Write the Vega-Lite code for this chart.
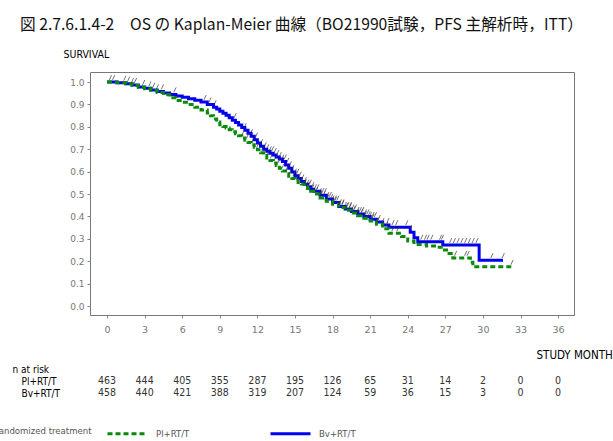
{
  "$schema": "https://vega.github.io/schema/vega-lite/v6.json",
  "autosize": "none",
  "width": 484,
  "height": 243,
  "padding": {"left": 90, "top": 72, "right": 39, "bottom": 126},
  "background": "white",
  "title": {
    "text": "図 2.7.6.1.4-2　OS の Kaplan-Meier 曲線（BO21990試験，PFS 主解析時，ITT）",
    "anchor": "start",
    "frame": "group",
    "dx": -70,
    "offset": 0,
    "baseline": "bottom",
    "font": "Noto Sans CJK JP",
    "fontSize": 15.7,
    "fontWeight": "normal",
    "color": "#111"
  },
  "config": {
    "view": {"stroke": "#777", "strokeWidth": 1},
    "axis": {"grid": false}
  },
  "datasets": {
    "km": [
      {"arm": "Bv+RT/T", "month": 0, "surv": 1.0},
      {"arm": "Bv+RT/T", "month": 0.8, "surv": 0.997},
      {"arm": "Bv+RT/T", "month": 1.5, "surv": 0.993},
      {"arm": "Bv+RT/T", "month": 2.0, "surv": 0.987},
      {"arm": "Bv+RT/T", "month": 2.5, "surv": 0.978},
      {"arm": "Bv+RT/T", "month": 3.0, "surv": 0.972},
      {"arm": "Bv+RT/T", "month": 3.5, "surv": 0.965},
      {"arm": "Bv+RT/T", "month": 4.0, "surv": 0.958},
      {"arm": "Bv+RT/T", "month": 4.5, "surv": 0.951},
      {"arm": "Bv+RT/T", "month": 5.0, "surv": 0.945},
      {"arm": "Bv+RT/T", "month": 5.5, "surv": 0.938},
      {"arm": "Bv+RT/T", "month": 6.0, "surv": 0.932},
      {"arm": "Bv+RT/T", "month": 6.5, "surv": 0.926},
      {"arm": "Bv+RT/T", "month": 7.0, "surv": 0.919},
      {"arm": "Bv+RT/T", "month": 7.5, "surv": 0.911},
      {"arm": "Bv+RT/T", "month": 8.0, "surv": 0.900},
      {"arm": "Bv+RT/T", "month": 8.5, "surv": 0.888},
      {"arm": "Bv+RT/T", "month": 8.75, "surv": 0.880},
      {"arm": "Bv+RT/T", "month": 9.0, "surv": 0.870},
      {"arm": "Bv+RT/T", "month": 9.25, "surv": 0.861},
      {"arm": "Bv+RT/T", "month": 9.5, "surv": 0.852},
      {"arm": "Bv+RT/T", "month": 9.75, "surv": 0.841},
      {"arm": "Bv+RT/T", "month": 10.0, "surv": 0.830},
      {"arm": "Bv+RT/T", "month": 10.25, "surv": 0.819},
      {"arm": "Bv+RT/T", "month": 10.5, "surv": 0.808},
      {"arm": "Bv+RT/T", "month": 10.75, "surv": 0.797},
      {"arm": "Bv+RT/T", "month": 11.0, "surv": 0.785},
      {"arm": "Bv+RT/T", "month": 11.25, "surv": 0.772},
      {"arm": "Bv+RT/T", "month": 11.5, "surv": 0.758},
      {"arm": "Bv+RT/T", "month": 11.75, "surv": 0.743},
      {"arm": "Bv+RT/T", "month": 12.0, "surv": 0.728},
      {"arm": "Bv+RT/T", "month": 12.25, "surv": 0.713},
      {"arm": "Bv+RT/T", "month": 12.5, "surv": 0.700},
      {"arm": "Bv+RT/T", "month": 12.75, "surv": 0.691},
      {"arm": "Bv+RT/T", "month": 13.0, "surv": 0.682},
      {"arm": "Bv+RT/T", "month": 13.25, "surv": 0.674},
      {"arm": "Bv+RT/T", "month": 13.5, "surv": 0.665},
      {"arm": "Bv+RT/T", "month": 13.75, "surv": 0.656},
      {"arm": "Bv+RT/T", "month": 14.0, "surv": 0.645},
      {"arm": "Bv+RT/T", "month": 14.25, "surv": 0.630},
      {"arm": "Bv+RT/T", "month": 14.5, "surv": 0.615},
      {"arm": "Bv+RT/T", "month": 14.75, "surv": 0.598},
      {"arm": "Bv+RT/T", "month": 15.0, "surv": 0.582},
      {"arm": "Bv+RT/T", "month": 15.25, "surv": 0.569},
      {"arm": "Bv+RT/T", "month": 15.5, "surv": 0.556},
      {"arm": "Bv+RT/T", "month": 15.75, "surv": 0.544},
      {"arm": "Bv+RT/T", "month": 16.0, "surv": 0.533},
      {"arm": "Bv+RT/T", "month": 16.25, "surv": 0.522},
      {"arm": "Bv+RT/T", "month": 16.5, "surv": 0.512},
      {"arm": "Bv+RT/T", "month": 17.0, "surv": 0.495},
      {"arm": "Bv+RT/T", "month": 17.5, "surv": 0.478},
      {"arm": "Bv+RT/T", "month": 18.0, "surv": 0.462},
      {"arm": "Bv+RT/T", "month": 18.5, "surv": 0.445},
      {"arm": "Bv+RT/T", "month": 19.0, "surv": 0.433},
      {"arm": "Bv+RT/T", "month": 19.5, "surv": 0.422},
      {"arm": "Bv+RT/T", "month": 20.0, "surv": 0.411},
      {"arm": "Bv+RT/T", "month": 20.5, "surv": 0.400},
      {"arm": "Bv+RT/T", "month": 21.0, "surv": 0.388},
      {"arm": "Bv+RT/T", "month": 21.5, "surv": 0.375},
      {"arm": "Bv+RT/T", "month": 22.0, "surv": 0.362},
      {"arm": "Bv+RT/T", "month": 22.5, "surv": 0.352},
      {"arm": "Bv+RT/T", "month": 24.2, "surv": 0.330},
      {"arm": "Bv+RT/T", "month": 24.5, "surv": 0.305},
      {"arm": "Bv+RT/T", "month": 24.8, "surv": 0.287},
      {"arm": "Bv+RT/T", "month": 26.8, "surv": 0.272},
      {"arm": "Bv+RT/T", "month": 29.7, "surv": 0.205},
      {"arm": "Bv+RT/T", "month": 31.6, "surv": 0.205},
      {"arm": "Pl+RT/T", "month": 0, "surv": 1.0},
      {"arm": "Pl+RT/T", "month": 0.8, "surv": 0.997},
      {"arm": "Pl+RT/T", "month": 1.5, "surv": 0.992},
      {"arm": "Pl+RT/T", "month": 2.0, "surv": 0.985},
      {"arm": "Pl+RT/T", "month": 2.5, "surv": 0.977},
      {"arm": "Pl+RT/T", "month": 3.0, "surv": 0.970},
      {"arm": "Pl+RT/T", "month": 3.5, "surv": 0.962},
      {"arm": "Pl+RT/T", "month": 4.0, "surv": 0.953},
      {"arm": "Pl+RT/T", "month": 4.5, "surv": 0.943},
      {"arm": "Pl+RT/T", "month": 5.0, "surv": 0.930},
      {"arm": "Pl+RT/T", "month": 5.5, "surv": 0.918},
      {"arm": "Pl+RT/T", "month": 6.0, "surv": 0.910},
      {"arm": "Pl+RT/T", "month": 6.5, "surv": 0.900},
      {"arm": "Pl+RT/T", "month": 7.0, "surv": 0.888},
      {"arm": "Pl+RT/T", "month": 7.5, "surv": 0.875},
      {"arm": "Pl+RT/T", "month": 8.0, "surv": 0.862},
      {"arm": "Pl+RT/T", "month": 8.25, "surv": 0.850},
      {"arm": "Pl+RT/T", "month": 8.5, "surv": 0.835},
      {"arm": "Pl+RT/T", "month": 8.75, "surv": 0.822},
      {"arm": "Pl+RT/T", "month": 9.0, "surv": 0.810},
      {"arm": "Pl+RT/T", "month": 9.25, "surv": 0.802},
      {"arm": "Pl+RT/T", "month": 9.5, "surv": 0.795},
      {"arm": "Pl+RT/T", "month": 9.75, "surv": 0.787},
      {"arm": "Pl+RT/T", "month": 10.0, "surv": 0.778},
      {"arm": "Pl+RT/T", "month": 10.25, "surv": 0.769},
      {"arm": "Pl+RT/T", "month": 10.5, "surv": 0.760},
      {"arm": "Pl+RT/T", "month": 10.75, "surv": 0.750},
      {"arm": "Pl+RT/T", "month": 11.0, "surv": 0.740},
      {"arm": "Pl+RT/T", "month": 11.25, "surv": 0.730},
      {"arm": "Pl+RT/T", "month": 11.5, "surv": 0.720},
      {"arm": "Pl+RT/T", "month": 11.75, "surv": 0.709},
      {"arm": "Pl+RT/T", "month": 12.0, "surv": 0.698},
      {"arm": "Pl+RT/T", "month": 12.25, "surv": 0.685},
      {"arm": "Pl+RT/T", "month": 12.5, "surv": 0.672},
      {"arm": "Pl+RT/T", "month": 12.75, "surv": 0.661},
      {"arm": "Pl+RT/T", "month": 13.0, "surv": 0.650},
      {"arm": "Pl+RT/T", "month": 13.25, "surv": 0.639},
      {"arm": "Pl+RT/T", "month": 13.5, "surv": 0.628},
      {"arm": "Pl+RT/T", "month": 13.75, "surv": 0.615},
      {"arm": "Pl+RT/T", "month": 14.0, "surv": 0.603},
      {"arm": "Pl+RT/T", "month": 14.25, "surv": 0.591},
      {"arm": "Pl+RT/T", "month": 14.5, "surv": 0.580},
      {"arm": "Pl+RT/T", "month": 14.75, "surv": 0.570},
      {"arm": "Pl+RT/T", "month": 15.0, "surv": 0.560},
      {"arm": "Pl+RT/T", "month": 15.25, "surv": 0.552},
      {"arm": "Pl+RT/T", "month": 15.5, "surv": 0.545},
      {"arm": "Pl+RT/T", "month": 15.75, "surv": 0.535},
      {"arm": "Pl+RT/T", "month": 16.0, "surv": 0.525},
      {"arm": "Pl+RT/T", "month": 16.25, "surv": 0.512},
      {"arm": "Pl+RT/T", "month": 16.5, "surv": 0.500},
      {"arm": "Pl+RT/T", "month": 17.0, "surv": 0.482},
      {"arm": "Pl+RT/T", "month": 17.5, "surv": 0.468},
      {"arm": "Pl+RT/T", "month": 18.0, "surv": 0.455},
      {"arm": "Pl+RT/T", "month": 18.5, "surv": 0.440},
      {"arm": "Pl+RT/T", "month": 19.0, "surv": 0.428},
      {"arm": "Pl+RT/T", "month": 19.5, "surv": 0.415},
      {"arm": "Pl+RT/T", "month": 20.0, "surv": 0.403},
      {"arm": "Pl+RT/T", "month": 20.5, "surv": 0.392},
      {"arm": "Pl+RT/T", "month": 21.0, "surv": 0.380},
      {"arm": "Pl+RT/T", "month": 21.5, "surv": 0.365},
      {"arm": "Pl+RT/T", "month": 22.0, "surv": 0.345},
      {"arm": "Pl+RT/T", "month": 22.5, "surv": 0.325},
      {"arm": "Pl+RT/T", "month": 23.5, "surv": 0.310},
      {"arm": "Pl+RT/T", "month": 24.0, "surv": 0.290},
      {"arm": "Pl+RT/T", "month": 24.5, "surv": 0.275},
      {"arm": "Pl+RT/T", "month": 25.5, "surv": 0.268},
      {"arm": "Pl+RT/T", "month": 26.3, "surv": 0.262},
      {"arm": "Pl+RT/T", "month": 26.8, "surv": 0.250},
      {"arm": "Pl+RT/T", "month": 27.3, "surv": 0.235},
      {"arm": "Pl+RT/T", "month": 27.6, "surv": 0.215},
      {"arm": "Pl+RT/T", "month": 29.0, "surv": 0.195},
      {"arm": "Pl+RT/T", "month": 29.2, "surv": 0.175},
      {"arm": "Pl+RT/T", "month": 32.3, "surv": 0.175}
    ],
    "cens": [
      {"arm": "Bv+RT/T", "month": 0.25, "surv": 1.0},
      {"arm": "Bv+RT/T", "month": 0.5, "surv": 1.0},
      {"arm": "Bv+RT/T", "month": 1.4, "surv": 0.997},
      {"arm": "Bv+RT/T", "month": 1.7, "surv": 0.993},
      {"arm": "Bv+RT/T", "month": 2.0, "surv": 0.987},
      {"arm": "Bv+RT/T", "month": 2.25, "surv": 0.987},
      {"arm": "Bv+RT/T", "month": 2.9, "surv": 0.978},
      {"arm": "Bv+RT/T", "month": 3.4, "surv": 0.972},
      {"arm": "Bv+RT/T", "month": 3.7, "surv": 0.965},
      {"arm": "Bv+RT/T", "month": 4.0, "surv": 0.958},
      {"arm": "Bv+RT/T", "month": 4.4, "surv": 0.958},
      {"arm": "Bv+RT/T", "month": 5.4, "surv": 0.945},
      {"arm": "Bv+RT/T", "month": 7.8, "surv": 0.911},
      {"arm": "Bv+RT/T", "month": 8.2, "surv": 0.900},
      {"arm": "Bv+RT/T", "month": 8.6, "surv": 0.888},
      {"arm": "Bv+RT/T", "month": 10.2, "surv": 0.830},
      {"arm": "Bv+RT/T", "month": 11.0, "surv": 0.785},
      {"arm": "Bv+RT/T", "month": 11.5, "surv": 0.758},
      {"arm": "Bv+RT/T", "month": 11.9, "surv": 0.743},
      {"arm": "Bv+RT/T", "month": 12.3, "surv": 0.713},
      {"arm": "Bv+RT/T", "month": 12.6, "surv": 0.700},
      {"arm": "Bv+RT/T", "month": 12.8, "surv": 0.691},
      {"arm": "Bv+RT/T", "month": 13.0, "surv": 0.682},
      {"arm": "Bv+RT/T", "month": 13.2, "surv": 0.682},
      {"arm": "Bv+RT/T", "month": 13.4, "surv": 0.674},
      {"arm": "Bv+RT/T", "month": 13.6, "surv": 0.665},
      {"arm": "Bv+RT/T", "month": 13.8, "surv": 0.656},
      {"arm": "Bv+RT/T", "month": 14.0, "surv": 0.645},
      {"arm": "Bv+RT/T", "month": 14.2, "surv": 0.645},
      {"arm": "Bv+RT/T", "month": 14.4, "surv": 0.630},
      {"arm": "Bv+RT/T", "month": 14.6, "surv": 0.615},
      {"arm": "Bv+RT/T", "month": 14.8, "surv": 0.598},
      {"arm": "Bv+RT/T", "month": 15.0, "surv": 0.582},
      {"arm": "Bv+RT/T", "month": 15.2, "surv": 0.582},
      {"arm": "Bv+RT/T", "month": 15.4, "surv": 0.569},
      {"arm": "Bv+RT/T", "month": 15.6, "surv": 0.556},
      {"arm": "Bv+RT/T", "month": 15.8, "surv": 0.544},
      {"arm": "Bv+RT/T", "month": 16.0, "surv": 0.533},
      {"arm": "Bv+RT/T", "month": 16.2, "surv": 0.533},
      {"arm": "Bv+RT/T", "month": 16.4, "surv": 0.522},
      {"arm": "Bv+RT/T", "month": 16.6, "surv": 0.512},
      {"arm": "Bv+RT/T", "month": 16.8, "surv": 0.512},
      {"arm": "Bv+RT/T", "month": 17.0, "surv": 0.495},
      {"arm": "Bv+RT/T", "month": 17.2, "surv": 0.495},
      {"arm": "Bv+RT/T", "month": 17.4, "surv": 0.495},
      {"arm": "Bv+RT/T", "month": 17.6, "surv": 0.478},
      {"arm": "Bv+RT/T", "month": 17.8, "surv": 0.478},
      {"arm": "Bv+RT/T", "month": 18.0, "surv": 0.462},
      {"arm": "Bv+RT/T", "month": 18.2, "surv": 0.462},
      {"arm": "Bv+RT/T", "month": 18.4, "surv": 0.462},
      {"arm": "Bv+RT/T", "month": 18.6, "surv": 0.445},
      {"arm": "Bv+RT/T", "month": 18.8, "surv": 0.445},
      {"arm": "Bv+RT/T", "month": 19.0, "surv": 0.433},
      {"arm": "Bv+RT/T", "month": 19.2, "surv": 0.433},
      {"arm": "Bv+RT/T", "month": 19.4, "surv": 0.433},
      {"arm": "Bv+RT/T", "month": 19.6, "surv": 0.422},
      {"arm": "Bv+RT/T", "month": 19.8, "surv": 0.422},
      {"arm": "Bv+RT/T", "month": 20.0, "surv": 0.411},
      {"arm": "Bv+RT/T", "month": 20.2, "surv": 0.411},
      {"arm": "Bv+RT/T", "month": 20.4, "surv": 0.411},
      {"arm": "Bv+RT/T", "month": 20.6, "surv": 0.400},
      {"arm": "Bv+RT/T", "month": 20.8, "surv": 0.400},
      {"arm": "Bv+RT/T", "month": 21.0, "surv": 0.388},
      {"arm": "Bv+RT/T", "month": 21.2, "surv": 0.388},
      {"arm": "Bv+RT/T", "month": 21.4, "surv": 0.388},
      {"arm": "Bv+RT/T", "month": 21.7, "surv": 0.375},
      {"arm": "Bv+RT/T", "month": 22.0, "surv": 0.362},
      {"arm": "Bv+RT/T", "month": 22.4, "surv": 0.362},
      {"arm": "Bv+RT/T", "month": 22.8, "surv": 0.352},
      {"arm": "Bv+RT/T", "month": 23.1, "surv": 0.352},
      {"arm": "Bv+RT/T", "month": 23.9, "surv": 0.352},
      {"arm": "Bv+RT/T", "month": 24.2, "surv": 0.330},
      {"arm": "Bv+RT/T", "month": 25.1, "surv": 0.287},
      {"arm": "Bv+RT/T", "month": 25.4, "surv": 0.287},
      {"arm": "Bv+RT/T", "month": 25.6, "surv": 0.287},
      {"arm": "Bv+RT/T", "month": 25.9, "surv": 0.287},
      {"arm": "Bv+RT/T", "month": 26.6, "surv": 0.287},
      {"arm": "Bv+RT/T", "month": 26.75, "surv": 0.287},
      {"arm": "Bv+RT/T", "month": 27.4, "surv": 0.272},
      {"arm": "Bv+RT/T", "month": 27.7, "surv": 0.272},
      {"arm": "Bv+RT/T", "month": 28.0, "surv": 0.272},
      {"arm": "Bv+RT/T", "month": 28.3, "surv": 0.272},
      {"arm": "Bv+RT/T", "month": 28.6, "surv": 0.272},
      {"arm": "Bv+RT/T", "month": 28.9, "surv": 0.272},
      {"arm": "Bv+RT/T", "month": 29.2, "surv": 0.272},
      {"arm": "Bv+RT/T", "month": 29.5, "surv": 0.272},
      {"arm": "Bv+RT/T", "month": 30.7, "surv": 0.205},
      {"arm": "Bv+RT/T", "month": 31.6, "surv": 0.205},
      {"arm": "Pl+RT/T", "month": 10.8, "surv": 0.750},
      {"arm": "Pl+RT/T", "month": 11.2, "surv": 0.740},
      {"arm": "Pl+RT/T", "month": 11.6, "surv": 0.720},
      {"arm": "Pl+RT/T", "month": 12.0, "surv": 0.698},
      {"arm": "Pl+RT/T", "month": 12.4, "surv": 0.685},
      {"arm": "Pl+RT/T", "month": 12.8, "surv": 0.661},
      {"arm": "Pl+RT/T", "month": 13.1, "surv": 0.650},
      {"arm": "Pl+RT/T", "month": 13.4, "surv": 0.639},
      {"arm": "Pl+RT/T", "month": 13.7, "surv": 0.628},
      {"arm": "Pl+RT/T", "month": 14.0, "surv": 0.603},
      {"arm": "Pl+RT/T", "month": 14.3, "surv": 0.591},
      {"arm": "Pl+RT/T", "month": 14.6, "surv": 0.580},
      {"arm": "Pl+RT/T", "month": 14.9, "surv": 0.570},
      {"arm": "Pl+RT/T", "month": 15.2, "surv": 0.560},
      {"arm": "Pl+RT/T", "month": 15.5, "surv": 0.545},
      {"arm": "Pl+RT/T", "month": 15.8, "surv": 0.535},
      {"arm": "Pl+RT/T", "month": 16.1, "surv": 0.525},
      {"arm": "Pl+RT/T", "month": 16.4, "surv": 0.512},
      {"arm": "Pl+RT/T", "month": 16.7, "surv": 0.500},
      {"arm": "Pl+RT/T", "month": 17.0, "surv": 0.482},
      {"arm": "Pl+RT/T", "month": 17.3, "surv": 0.482},
      {"arm": "Pl+RT/T", "month": 17.6, "surv": 0.468},
      {"arm": "Pl+RT/T", "month": 17.9, "surv": 0.468},
      {"arm": "Pl+RT/T", "month": 18.2, "surv": 0.455},
      {"arm": "Pl+RT/T", "month": 18.5, "surv": 0.440},
      {"arm": "Pl+RT/T", "month": 18.8, "surv": 0.440},
      {"arm": "Pl+RT/T", "month": 19.1, "surv": 0.428},
      {"arm": "Pl+RT/T", "month": 19.4, "surv": 0.428},
      {"arm": "Pl+RT/T", "month": 19.7, "surv": 0.415},
      {"arm": "Pl+RT/T", "month": 20.0, "surv": 0.403},
      {"arm": "Pl+RT/T", "month": 20.3, "surv": 0.403},
      {"arm": "Pl+RT/T", "month": 20.6, "surv": 0.392},
      {"arm": "Pl+RT/T", "month": 20.9, "surv": 0.392},
      {"arm": "Pl+RT/T", "month": 21.2, "surv": 0.380},
      {"arm": "Pl+RT/T", "month": 21.6, "surv": 0.365},
      {"arm": "Pl+RT/T", "month": 22.3, "surv": 0.345},
      {"arm": "Pl+RT/T", "month": 22.8, "surv": 0.325},
      {"arm": "Pl+RT/T", "month": 23.2, "surv": 0.325},
      {"arm": "Pl+RT/T", "month": 27.8, "surv": 0.215},
      {"arm": "Pl+RT/T", "month": 28.6, "surv": 0.215},
      {"arm": "Pl+RT/T", "month": 28.8, "surv": 0.215},
      {"arm": "Pl+RT/T", "month": 32.3, "surv": 0.175}
    ],
    "risk": [
      {"arm": "Pl+RT/T", "month": 0, "n": 463},
      {"arm": "Pl+RT/T", "month": 3, "n": 444},
      {"arm": "Pl+RT/T", "month": 6, "n": 405},
      {"arm": "Pl+RT/T", "month": 9, "n": 355},
      {"arm": "Pl+RT/T", "month": 12, "n": 287},
      {"arm": "Pl+RT/T", "month": 15, "n": 195},
      {"arm": "Pl+RT/T", "month": 18, "n": 126},
      {"arm": "Pl+RT/T", "month": 21, "n": 65},
      {"arm": "Pl+RT/T", "month": 24, "n": 31},
      {"arm": "Pl+RT/T", "month": 27, "n": 14},
      {"arm": "Pl+RT/T", "month": 30, "n": 2},
      {"arm": "Pl+RT/T", "month": 33, "n": 0},
      {"arm": "Pl+RT/T", "month": 36, "n": 0},
      {"arm": "Bv+RT/T", "month": 0, "n": 458},
      {"arm": "Bv+RT/T", "month": 3, "n": 440},
      {"arm": "Bv+RT/T", "month": 6, "n": 421},
      {"arm": "Bv+RT/T", "month": 9, "n": 388},
      {"arm": "Bv+RT/T", "month": 12, "n": 319},
      {"arm": "Bv+RT/T", "month": 15, "n": 207},
      {"arm": "Bv+RT/T", "month": 18, "n": 124},
      {"arm": "Bv+RT/T", "month": 21, "n": 59},
      {"arm": "Bv+RT/T", "month": 24, "n": 36},
      {"arm": "Bv+RT/T", "month": 27, "n": 15},
      {"arm": "Bv+RT/T", "month": 30, "n": 3},
      {"arm": "Bv+RT/T", "month": 33, "n": 0},
      {"arm": "Bv+RT/T", "month": 36, "n": 0}
    ]
  },
  "layer": [
    {
      "encoding": {
        "x": {
          "field": "month", "type": "quantitative",
          "scale": {"domain": [-1.36, 37.27], "nice": false, "zero": false},
          "axis": {
            "values": [0, 3, 6, 9, 12, 15, 18, 21, 24, 27, 30, 33, 36],
            "labelOverlap": false,
            "title": "STUDY MONTH",
            "domain": false, "tickSize": 3, "tickColor": "#888",
            "labelFont": "DejaVu Sans", "labelFontSize": 9.5, "labelColor": "#777", "labelPadding": 6,
            "titleFont": "Liberation Sans Narrow, DejaVu Sans Condensed, sans-serif",
            "titleFontSize": 11.5, "titleFontWeight": "normal", "titleColor": "#000",
            "titleAnchor": "start", "titleAlign": "left", "titleBaseline": "middle",
            "titleX": 446, "titleY": 40
          }
        },
        "y": {
          "field": "surv", "type": "quantitative",
          "scale": {"domain": [-0.04, 1.045], "nice": false, "zero": false},
          "axis": {
            "values": [0, 0.1, 0.2, 0.3, 0.4, 0.5, 0.6, 0.7, 0.8, 0.9, 1.0],
            "labelOverlap": false,
            "format": ".1f",
            "title": "SURVIVAL",
            "domain": false, "tickSize": 3, "tickColor": "#888",
            "labelFont": "DejaVu Sans", "labelFontSize": 9, "labelColor": "#777", "labelPadding": 3,
            "titleFont": "Liberation Sans Narrow, DejaVu Sans Condensed, sans-serif",
            "titleFontSize": 10.5, "titleFontWeight": "normal", "titleColor": "#000",
            "titleAngle": 0, "titleAlign": "left", "titleBaseline": "middle",
            "titleX": -27, "titleY": -18
          }
        }
      },
      "layer": [
        {
          "data": {"name": "km"},
          "mark": {"type": "line", "interpolate": "step-after", "strokeWidth": 3},
          "encoding": {
            "color": {
              "field": "arm", "type": "nominal",
              "scale": {"domain": ["Pl+RT/T", "Bv+RT/T"], "range": ["#0a8a0a", "#0000ee"]},
              "legend": {
                "title": "Randomized treatment",
                "orient": "none", "legendX": -97, "legendY": 340,
                "direction": "horizontal", "titleOrient": "left",
                "titleAnchor": "middle", "titleBaseline": "top",
                "titleFont": "Liberation Sans Narrow, DejaVu Sans Condensed, sans-serif",
                "titleFontSize": 9.5, "titleFontWeight": "normal", "titleColor": "#555",
                "titlePadding": 14,
                "labelFont": "Liberation Sans Narrow, DejaVu Sans Condensed, sans-serif",
                "labelFontSize": 9.5, "labelColor": "#555", "labelOffset": 7,
                "symbolType": "stroke", "symbolSize": 1600, "symbolStrokeWidth": 3,
                "columnPadding": 74
              }
            },
            "strokeDash": {
              "field": "arm", "type": "nominal",
              "scale": {"domain": ["Pl+RT/T", "Bv+RT/T"], "range": [[5, 3], [1, 0]]},
              "legend": {
                "title": "Randomized treatment",
                "orient": "none", "legendX": -97, "legendY": 340,
                "direction": "horizontal", "titleOrient": "left",
                "titleAnchor": "middle", "titleBaseline": "top",
                "titleFont": "Liberation Sans Narrow, DejaVu Sans Condensed, sans-serif",
                "titleFontSize": 9.5, "titleFontWeight": "normal", "titleColor": "#555",
                "titlePadding": 14,
                "labelFont": "Liberation Sans Narrow, DejaVu Sans Condensed, sans-serif",
                "labelFontSize": 9.5, "labelColor": "#555", "labelOffset": 7,
                "symbolType": "stroke", "symbolSize": 1600, "symbolStrokeWidth": 3,
                "columnPadding": 74
              }
            }
          }
        },
        {
          "data": {"name": "cens"},
          "mark": {
            "type": "point",
            "shape": "M-0.12,-0.3L0.2,-1",
            "size": 196,
            "filled": false,
            "stroke": "#333",
            "strokeWidth": 0.8,
            "opacity": 0.85
          }
        }
      ]
    },
    {
      "data": {"name": "risk"},
      "mark": {
        "type": "text",
        "font": "Liberation Sans Narrow, DejaVu Sans Condensed, sans-serif",
        "fontSize": 10.5,
        "color": "#333",
        "baseline": "middle",
        "align": "center"
      },
      "encoding": {
        "x": {"field": "month", "type": "quantitative", "title": "STUDY MONTH"},
        "y": {
          "field": "arm", "type": "nominal",
          "scale": {"type": "point", "domain": ["Pl+RT/T", "Bv+RT/T"], "range": [309, 321], "padding": 0},
          "axis": {
            "orient": "left",
            "title": "n at risk",
            "domain": false, "ticks": false, "tickSize": 0,
            "labelAlign": "left", "labelBaseline": "middle", "labelPadding": 69,
            "labelFont": "Liberation Sans Narrow, DejaVu Sans Condensed, sans-serif",
            "labelFontSize": 10, "labelFontWeight": "normal", "labelColor": "#000",
            "titleFont": "Liberation Sans Narrow, DejaVu Sans Condensed, sans-serif",
            "titleFontSize": 10, "titleFontWeight": "normal", "titleColor": "#000",
            "titleAngle": 0, "titleAlign": "left", "titleBaseline": "middle",
            "titleX": -78, "titleY": 297
          }
        },
        "text": {"field": "n", "type": "quantitative"}
      }
    }
  ],
  "resolve": {"scale": {"y": "independent"}, "axis": {"y": "independent"}}
}
